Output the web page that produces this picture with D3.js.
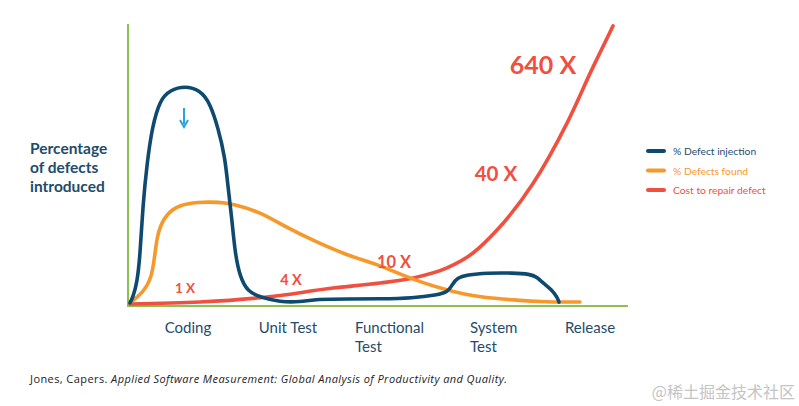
<!DOCTYPE html>
<html><head><meta charset="utf-8">
<script src="https://cdn.jsdelivr.net/npm/d3@7"></script>
<style>
html,body{margin:0;padding:0;background:#fff;}
svg{display:block;}
</style></head>
<body>
<svg id="c" width="799" height="406"></svg>
<script>
// ---- data ----
const stages = ["Coding", "Unit Test", "Functional\nTest", "System\nTest", "Release"];
const seriesNames = ["% Defect injection", "% Defects found", "Cost to repair defect"];
const costLabels = ["1 X", "4 X", "10 X", "40 X", "640 X"];
const yTitle = ["Percentage", "of defects", "introduced"];
// [stage position, value]
const defectInjection = [
  [-0.58,0.4],[-0.55,2.5],[-0.51,7.5],[-0.48,16.8],[-0.45,36],[-0.41,50],[-0.36,63],[-0.28,73],
  [-0.18,76.4],[-0.03,77.9],[0.12,76.4],[0.22,71.8],[0.30,63],[0.37,52.5],[0.40,41.8],[0.44,30],
  [0.47,18.2],[0.52,9.6],[0.60,4.3],[0.72,2.5],[0.92,0.7],[1.12,0.7],[1.29,1.8],[1.60,1.8],
  [1.92,1.8],[2.25,2.1],[2.49,3.2],[2.60,4.3],[2.64,6.8],[2.69,9.3],[2.79,10.4],[2.99,11.1],
  [3.25,11.1],[3.42,10.7],[3.49,9.6],[3.55,7.5],[3.64,5],[3.69,2.5],[3.71,0.7]
];
const defectsFound = [
  [-0.58,0.4],[-0.45,4],[-0.36,9.6],[-0.33,18.2],[-0.30,26.4],[-0.21,32.5],[-0.08,35.4],
  [0.09,36.4],[0.32,36.4],[0.45,35.7],[0.72,32.9],[0.95,28],[1.29,22],[1.62,17],[1.92,13.9],
  [2.25,8.6],[2.59,5],[2.75,3.6],[2.92,2.5],[3.25,1.4],[3.59,0.7],[3.92,0.7]
];
const repairCost = [
  [-0.58,0],[0.12,0.7],[0.79,2.5],[1.45,5.7],[1.92,7.5],[2.25,9.3],[2.59,12.9],[2.85,18.2],
  [3.09,26.4],[3.45,43],[3.79,64.6],[4.05,84.6],[4.25,99.3]
];

// ---- layout ----
const svg = d3.select("#c");
const x = d3.scaleLinear().domain([0, 4]).range([188, 588]);
const y = d3.scaleLinear().domain([0, 100]).range([304, 24]);
const colors = ["#0e4a6f", "#f7982b", "#f0503f"];
const green = "#8cc152";
const textBlue = "#1d4c6c";
const font = "Lato, 'Open Sans', sans-serif";

// axes
svg.append("line").attr("x1", x(-0.6)).attr("x2", x(-0.6)).attr("y1", y(100)).attr("y2", 306)
  .attr("stroke", green).attr("stroke-width", 2);
svg.append("line").attr("x1", x(-0.6) - 1).attr("x2", x(4.4)).attr("y1", 306).attr("y2", 306)
  .attr("stroke", green).attr("stroke-width", 2);

const curves = [d3.curveBasis, d3.curveBasis, d3.curveMonotoneX];
[repairCost, defectsFound, defectInjection].forEach((s, i) => {
  const ci = 2 - i;
  const line = d3.line().x(d => x(d[0])).y(d => y(d[1])).curve(curves[ci]);
  svg.append("path").attr("d", line(s)).attr("fill", "none")
    .attr("stroke", colors[ci]).attr("stroke-width", 3.6)
    .attr("stroke-linecap", "round").attr("stroke-linejoin", "round");
});

// arrow
const ax = x(-0.04);
svg.append("line").attr("x1", ax).attr("x2", ax).attr("y1", 108).attr("y2", 124)
  .attr("stroke", "#27a4dc").attr("stroke-width", 2);
svg.append("path").attr("d", `M${ax-4},${120} L${ax},${127} L${ax+4},${120}`)
  .attr("fill", "none").attr("stroke", "#27a4dc").attr("stroke-width", 2);

// cost labels
const labelPos = [[-0.03, 5.8, 13.5], [1.03, 8.6, 14.5], [2.06, 15, 16.5], [3.08, 46.8, 20.5], [3.55, 85.7, 25]];
costLabels.forEach((t, i) => {
  const p = labelPos[i];
  svg.append("text").attr("x", x(p[0])).attr("y", y(p[1])).attr("text-anchor", "middle")
    .attr("dominant-baseline", "central")
    .attr("font-family", font).attr("font-weight", 700).attr("font-size", p[2])
    .attr("fill", colors[2]).text(t);
});

// y title
yTitle.forEach((t, i) => {
  svg.append("text").attr("x", 30).attr("y", 148 + i * 19).attr("dominant-baseline", "central")
    .attr("font-family", font).attr("font-weight", 700).attr("font-size", 15.5)
    .attr("fill", textBlue).text(t);
});

// x labels
const xAnchor = ["middle", "middle", "start", "start", "middle"];
const xOff = [0, 0, -33, -18, 2];
stages.forEach((s, i) => {
  const lines = s.split("\n");
  lines.forEach((l, j) => {
    svg.append("text").attr("x", x(i) + xOff[i]).attr("y", 327 + j * 19)
      .attr("dominant-baseline", "central").attr("text-anchor", xAnchor[i])
      .attr("font-family", font).attr("font-size", 15).attr("fill", textBlue).text(l);
  });
});

// legend
seriesNames.forEach((n, i) => {
  const ly = 151 + i * 19.5;
  svg.append("line").attr("x1", 648).attr("x2", 664).attr("y1", ly).attr("y2", ly)
    .attr("stroke", colors[i]).attr("stroke-width", 4).attr("stroke-linecap", "round");
  svg.append("text").attr("x", 673).attr("y", ly).attr("dominant-baseline", "central")
    .attr("font-family", font).attr("font-size", 10.3).attr("fill", i === 0 ? textBlue : colors[i]).text(n);
});

// footnote
const fn = svg.append("text").attr("x", 30).attr("y", 378).attr("dominant-baseline", "central")
  .attr("font-family", "'Open Sans', sans-serif").attr("font-size", 11).attr("fill", "#222");
fn.append("tspan").text("Jones, Capers. ");
fn.append("tspan").attr("font-style", "italic").text("Applied Software Measurement: Global Analysis of Productivity and Quality.");
const fw = fn.node().getComputedTextLength();
if (fw > 0) fn.attr("textLength", 477).attr("lengthAdjust", "spacing");

// watermark
svg.append("text").attr("x", 795).attr("y", 391).attr("text-anchor", "end").attr("dominant-baseline", "central")
  .attr("font-family", "'Noto Sans CJK SC', sans-serif").attr("font-size", 16).attr("fill", "#c4c4c4")
  .text("@稀土掘金技术社区");
</script>
</body></html>
